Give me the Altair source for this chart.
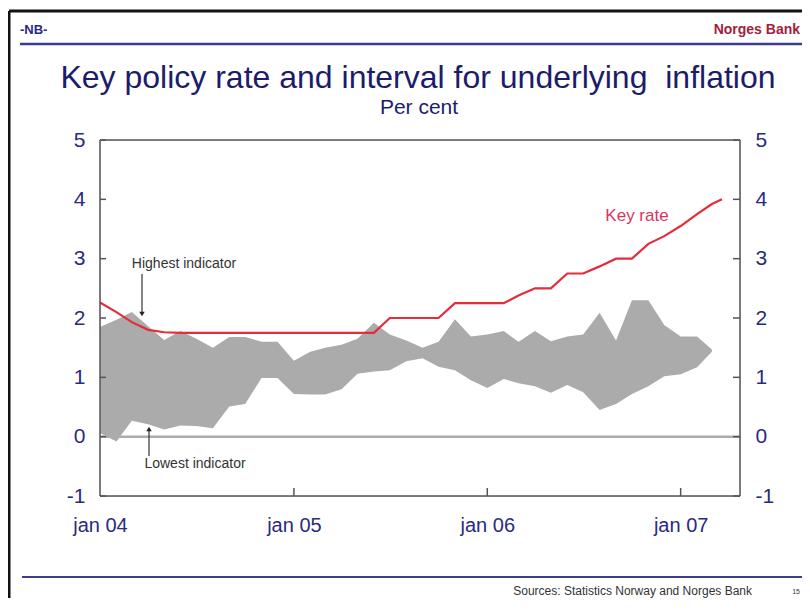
import altair as alt
import pandas as pd

# ---------------- data ----------------
band_months = pd.date_range("2004-01-01", periods=39, freq="MS")
upper = [1.85, 1.97, 2.10, 1.86, 1.63, 1.78, 1.65, 1.50, 1.68, 1.68,
         1.60, 1.60, 1.28, 1.43, 1.50, 1.55, 1.65, 1.92, 1.72, 1.62,
         1.50, 1.60, 1.98, 1.69, 1.72, 1.78, 1.60, 1.78, 1.61, 1.69,
         1.72, 2.09, 1.62, 2.30, 2.30, 1.88, 1.69, 1.69, 1.47]
lower = [0.06, -0.08, 0.27, 0.21, 0.12, 0.19, 0.18, 0.14, 0.51, 0.55,
         0.99, 0.99, 0.72, 0.71, 0.71, 0.80, 1.06, 1.10, 1.12, 1.27,
         1.32, 1.18, 1.12, 0.95, 0.82, 0.97, 0.90, 0.85, 0.74, 0.87,
         0.75, 0.45, 0.55, 0.72, 0.85, 1.02, 1.05, 1.17, 1.43]

key_dates = list(pd.date_range("2004-01-01", periods=39, freq="MS")) + [pd.Timestamp("2007-03-20")]
key_rate = [2.26, 2.10, 1.93, 1.80, 1.76,
            1.75, 1.75, 1.75, 1.75, 1.75, 1.75, 1.75, 1.75, 1.75, 1.75, 1.75, 1.75, 1.75,
            2.00, 2.00, 2.00, 2.00,
            2.25, 2.25, 2.25, 2.25,
            2.38, 2.50, 2.50,
            2.75, 2.75,
            2.87, 3.00, 3.00,
            3.25, 3.38, 3.55, 3.75, 3.92, 4.00]

y_ticks = [-1, 0, 1, 2, 3, 4, 5]
year_ticks = [pd.Timestamp("2005-01-01"), pd.Timestamp("2006-01-01"), pd.Timestamp("2007-01-01")]

# ---------------- styling ----------------
W, H = 640, 356
NAVY = "#2A2A80"
TITLE_NAVY = "#1C1C6B"
FONT = "Liberation Sans"
NARROW = "Liberation Sans Narrow, Liberation Sans"

xscale = alt.Scale(domain=[alt.DateTime(year=2004, month=1, date=1),
                           alt.DateTime(year=2007, month=4, date=23)])
yscale = alt.Scale(domain=[-1, 5], nice=False, zero=False)

x_axis = alt.Axis(title=None, values=[alt.DateTime(year=y, month=1, date=1) for y in (2004, 2005, 2006, 2007)],
                  labelExpr="lower(timeFormat(datum.value, '%b %y'))",
                  domain=False, ticks=False, grid=False, labelFlush=False, labelOverlap=False,
                  labelPadding=19, labelFontSize=20, labelFont=NARROW, labelColor=NAVY)

def y_axis(orient):
    return alt.Axis(orient=orient, title=None, values=y_ticks, domain=False, ticks=False, grid=False,
                    labelExpr="datum.value < 0 ? '-' + abs(datum.value) : '' + datum.value",
                    labelPadding=15, labelFontSize=21, labelFont=FONT, labelColor=NAVY)

one = pd.DataFrame({"a": [0]})

zero_line = alt.Chart(pd.DataFrame({"v": [0]})).mark_rule(color="#ABABAB", strokeWidth=2.5).encode(
    y=alt.Y("v:Q", scale=yscale, axis=None))

band = alt.Chart(pd.DataFrame({"date": band_months, "upper": upper, "lower": lower})).mark_area(
    color="#ABABAB", opacity=1).encode(
    x=alt.X("date:T", scale=xscale, axis=x_axis),
    y=alt.Y("upper:Q", scale=yscale, axis=y_axis("left")),
    y2="lower:Q")

key = alt.Chart(pd.DataFrame({"date": key_dates, "rate": key_rate})).mark_line(
    color="#E42C3A", strokeWidth=2.2).encode(
    x=alt.X("date:T", scale=xscale, axis=x_axis),
    y=alt.Y("rate:Q", scale=yscale, axis=y_axis("right")))

tick_df = pd.DataFrame({"v": y_ticks})
left_ticks = alt.Chart(tick_df).mark_rule(color="#555555", strokeWidth=1.5).encode(
    y=alt.Y("v:Q", scale=yscale, axis=None), x=alt.value(0), x2=alt.value(6))
right_ticks = alt.Chart(tick_df).mark_rule(color="#555555", strokeWidth=1.5).encode(
    y=alt.Y("v:Q", scale=yscale, axis=None), x=alt.value(W - 7), x2=alt.value(W))
bottom_ticks = alt.Chart(pd.DataFrame({"date": year_ticks})).mark_rule(color="#555555", strokeWidth=1.5).encode(
    x=alt.X("date:T", scale=xscale, axis=x_axis), y=alt.value(H - 8), y2=alt.value(H))

def hline(y, x1, x2, color, w):
    return alt.Chart(one).mark_rule(color=color, strokeWidth=w).encode(
        x=alt.value(x1), x2=alt.value(x2), y=alt.value(y))

def vline(x, y1, y2, color, w):
    return alt.Chart(one).mark_rule(color=color, strokeWidth=w).encode(
        x=alt.value(x), y=alt.value(y1), y2=alt.value(y2))

def text(s, x, y, size, color, align="center", weight="normal", font=FONT):
    return alt.Chart(one).mark_text(fontSize=size, color=color, align=align, baseline="middle",
                                    fontWeight=weight, font=font).encode(
        x=alt.value(x), y=alt.value(y), text=alt.value(s))

def arrow_head(x, y, shape):
    return alt.Chart(one).mark_point(shape=shape, filled=True, color="#222222", size=30, opacity=1).encode(
        x=alt.value(x), y=alt.value(y))

frame = [hline(0, 0, W, "#555555", 1.5), hline(H, 0, W, "#555555", 1.5),
         vline(0, 0, H, "#555555", 1.5), vline(W, 0, H, "#555555", 1.5)]

decor = [
    # slide border
    hline(-129, -91, 702, "#111111", 3), vline(-91, -129, 458, "#111111", 3),
    # header
    text("-NB-", -80, -110, 13, NAVY, align="left", weight="bold"),
    text("Norges Bank", 700, -110, 14, "#A3213B", align="right", weight="bold"),
    hline(-96, -80, 702, "#3D3D8F", 2.5),
    # titles
    text("Key policy rate and interval for underlying\u00a0 inflation", 318, -62, 32, TITLE_NAVY),
    text("Per cent", 319, -32, 21, TITLE_NAVY),
    # annotations
    text("Key rate", 537, 76, 17, "#D8365E"),
    text("Highest indicator", 84, 124, 14, "#333333"),
    vline(42, 134, 172, "#333333", 1.2), arrow_head(42, 174, "triangle-down"),
    text("Lowest indicator", 95, 324, 14, "#333333"),
    vline(49, 290, 316, "#333333", 1.2), arrow_head(49, 289, "triangle-up"),
    # footer
    hline(437, -78, 702, "#3D3D8F", 2),
    text("Sources: Statistics Norway and Norges Bank", 652, 451, 12, "#333333", align="right"),
    text("15", 700, 452, 7, "#333333", align="right"),
]

chart = alt.layer(zero_line, band, key, left_ticks, right_ticks, bottom_ticks, *frame, *decor).resolve_scale(
    y="independent").properties(
    width=W, height=H,
    padding={"left": 92, "top": 132, "right": 62, "bottom": 102},
    autosize=alt.AutoSizeParams(type="none"),
).configure_view(stroke=None).configure(background="white")

chart.save("out.html", embed_options={"renderer": "svg", "actions": False})
